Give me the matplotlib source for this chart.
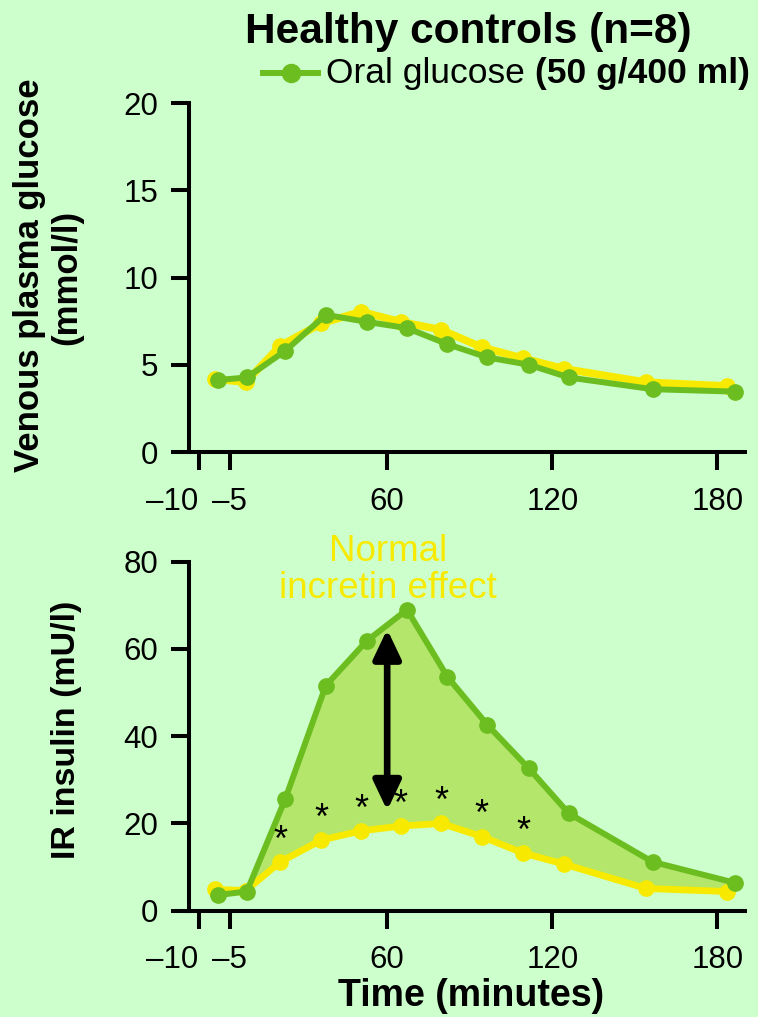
import matplotlib
matplotlib.use('Agg')
import matplotlib.pyplot as plt
from matplotlib.lines import Line2D

plt.rcParams['font.family'] = ['Liberation Sans', 'DejaVu Sans']

# ---- data ----
time_oral = [-1.3, 9.0, 22.9, 37.7, 52.5, 67.2, 81.9, 96.4, 111.5, 126.0, 156.4, 186.3]
time_iv = [-2.4, 8.6, 21.2, 36.1, 50.5, 64.9, 79.7, 94.4, 109.4, 124.2, 154.0, 183.5]
glucose_oral = [4.13, 4.27, 5.79, 7.86, 7.46, 7.10, 6.18, 5.42, 5.00, 4.27, 3.60, 3.46]
glucose_iv = [4.18, 4.00, 6.09, 7.37, 8.04, 7.46, 7.00, 6.00, 5.37, 4.77, 4.00, 3.78]
insulin_oral = [3.6, 4.4, 25.5, 51.6, 61.8, 69.0, 53.6, 42.6, 32.6, 22.3, 11.2, 6.4]
insulin_iv = [4.9, 4.6, 11.2, 16.2, 18.3, 19.4, 20.0, 17.0, 13.2, 10.7, 5.1, 4.4]
sig_index = [2, 3, 4, 5, 6, 7, 8]
xtick_pos = [-8.5, 2.8, 60, 120, 180]
xtick_labels = ['\u201310', '\u20135', '60', '120', '180']
glucose_ticks = [0, 5, 10, 15, 20]
insulin_ticks = [0, 20, 40, 60, 80]
arrow_x = 60
arrow_span = (23.0, 64.5)

BG = '#ccffcc'
GREEN = '#6cbd1f'
YELLOW = '#f7ea00'
FILL = '#b3e66a'

W, H = 758, 1017
fig = plt.figure(figsize=(W / 100, H / 100), dpi=100, facecolor=BG)


def fx(px):
    return px / W


def fy(py):
    return 1 - py / H


ax1 = fig.add_axes([fx(189), fy(452), fx(745) - fx(189), fy(103) - fy(452)])
ax2 = fig.add_axes([fx(189), fy(910.7), fx(745) - fx(189), fy(561.7) - fy(910.7)])

for ax in (ax1, ax2):
    ax.set_facecolor(BG)
    ax.patch.set_alpha(0)
    for s in ('top', 'right'):
        ax.spines[s].set_visible(False)
    for s in ('left', 'bottom'):
        ax.spines[s].set_linewidth(2.9)
    ax.tick_params(direction='out', length=13, width=2.9, labelsize=22.5)
    ax.tick_params(axis='x', pad=12)
    ax.tick_params(axis='y', pad=9)
    ax.set_xlim(-12, 190)
    ax.set_xticks(xtick_pos)
    ax.set_xticklabels(xtick_labels)
    ax.get_xticklabels()[0].set_horizontalalignment('right')

lw = 4.3
ms = 11
# top panel
ax1.plot(time_iv, glucose_iv, color=YELLOW, lw=lw + 1.2, marker='o', ms=ms, zorder=3, clip_on=False)
ax1.plot(time_oral, glucose_oral, color=GREEN, lw=lw, marker='o', ms=ms, zorder=4, clip_on=False)
ax1.set_ylim(0, 20)
ax1.set_yticks(glucose_ticks)

# bottom panel
poly_x = list(time_oral) + list(time_iv[::-1])
poly_y = list(insulin_oral) + list(insulin_iv[::-1])
ax2.fill(poly_x, poly_y, color=FILL, lw=0, zorder=1)
ax2.plot(time_iv, insulin_iv, color=YELLOW, lw=lw + 0.6, marker='o', ms=ms, zorder=3, clip_on=False)
ax2.plot(time_oral, insulin_oral, color=GREEN, lw=lw, marker='o', ms=ms, zorder=4, clip_on=False)
ax2.set_ylim(0, 80)
ax2.set_yticks(insulin_ticks)

for i in sig_index:
    ax2.annotate('*', xy=(time_iv[i], insulin_iv[i]), xytext=(0, 15), textcoords='offset points',
                 ha='center', va='center', fontsize=26, color='black', zorder=5)

ax2.annotate('', xy=(arrow_x, arrow_span[0]), xytext=(arrow_x, arrow_span[1]),
             arrowprops=dict(arrowstyle='<|-|>,head_length=0.8,head_width=0.38', color='black',
                             lw=4.8, mutation_scale=22, shrinkA=0, shrinkB=0), zorder=6)

fig.text(fx(388), fy(570), 'Normal\nincretin effect', ha='center', va='center', fontsize=26.5,
         color=YELLOW, linespacing=1.08)

# labels
fig.text(fx(468), fy(43), 'Healthy controls (n=8)', ha='center', va='baseline', fontsize=30.5,
         fontweight='bold')
fig.text(fx(471), fy(1006), 'Time (minutes)', ha='center', va='baseline', fontsize=27,
         fontweight='bold')
fig.text(fx(30), fy(275), 'Venous plasma glucose', rotation=90, ha='center', va='center',
         fontsize=25, fontweight='bold')
fig.text(fx(67), fy(277), '(mmol/l)', rotation=90, ha='center', va='center',
         fontsize=25, fontweight='bold')
fig.text(fx(67), fy(730), 'IR insulin (mU/l)', rotation=90, ha='center', va='center',
         fontsize=24.5, fontweight='bold')

# legend
fig.add_artist(Line2D([fx(263), fx(318)], [fy(73), fy(73)], transform=fig.transFigure,
                      color=GREEN, lw=lw, zorder=5))
fig.add_artist(Line2D([fx(290.5)], [fy(73)], transform=fig.transFigure, color=GREEN,
                      marker='o', ms=ms + 2, lw=0, zorder=6))
t1 = fig.text(fx(326), fy(83), 'Oral glucose ', ha='left', va='baseline', fontsize=25.5)
fig.canvas.draw()
bb = t1.get_window_extent(renderer=fig.canvas.get_renderer())
fig.text(bb.x1 / W, fy(83), '(50 g/400 ml)', ha='left', va='baseline', fontsize=25.5,
         fontweight='bold')

fig.savefig('out.png', dpi=100, facecolor=BG)
